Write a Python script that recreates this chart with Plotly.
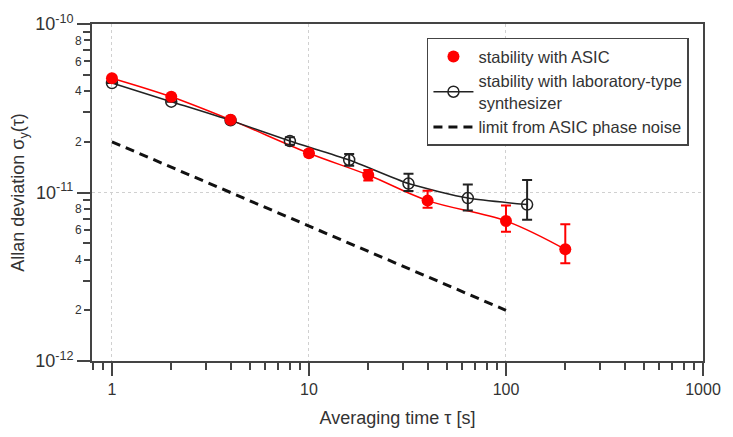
import numpy as np
import plotly.graph_objects as go

# ---- data ----
tau_asic = [1, 2, 4, 10, 20, 40, 100, 200]
adev_asic = [4.77e-11, 3.70e-11, 2.70e-11, 1.71e-11, 1.27e-11, 8.95e-12, 6.78e-12, 4.60e-12]
err_asic_plus = [0, 0, 0, 0.07e-11, 0.09e-11, 1.28e-12, 1.59e-12, 1.89e-12]
err_asic_minus = [0, 0, 0, 0.07e-11, 0.09e-11, 0.84e-12, 0.93e-12, 0.80e-12]

tau_lab = [1, 2, 4, 8, 16, 32, 64, 128]
adev_lab = [4.46e-11, 3.46e-11, 2.68e-11, 2.02e-11, 1.56e-11, 1.13e-11, 9.27e-12, 8.48e-12]
err_lab_plus = [0, 0, 0, 0.11e-11, 0.13e-11, 1.6e-12, 1.9e-12, 3.4e-12]
err_lab_minus = [0, 0, 0, 0.10e-11, 0.12e-11, 1.1e-12, 1.44e-12, 1.6e-12]

tau_limit = [1, 100]
adev_limit = [2e-11, 2e-12]

x_major = [1, 10, 100, 1000]
x_major_text = ["1", "10", "100", "1000"]
x_minor = [0.8, 0.9] + [m * d for d in (1, 10, 100) for m in range(2, 10)]
y_major = [1e-12, 1e-11, 1e-10]
y_major_text = ["10<sup>-12</sup>", "10<sup>-11</sup>", "10<sup>-10</sup>"]
y_minor = [3e-12, 5e-12, 7e-12, 9e-12, 3e-11, 5e-11, 7e-11, 9e-11]
y_minor_labeled = [2e-12, 4e-12, 6e-12, 8e-12, 2e-11, 4e-11, 6e-11, 8e-11]
y_minor_text = ["2", "4", "6", "8", "2", "4", "6", "8"]

RED = "#ff0000"
BLK = "#222222"
TXT = "#333333"
AX = "#444444"
FONT = "Liberation Sans, Arial, sans-serif"

fig = go.Figure()

fig.add_trace(go.Scatter(
    x=tau_asic, y=adev_asic, mode="lines",
    line=dict(color=RED, width=1.5, shape="spline", smoothing=1),
    showlegend=False, hoverinfo="skip"))

fig.add_trace(go.Scatter(
    x=tau_lab, y=adev_lab, mode="lines+markers",
    name="stability with laboratory-type<br>synthesizer", legendrank=2,
    line=dict(color=BLK, width=1.5, shape="spline", smoothing=0.6),
    marker=dict(symbol="circle-open", size=11, color=BLK, line=dict(width=1.5, color=BLK)),
    error_y=dict(type="data", symmetric=False, array=err_lab_plus, arrayminus=err_lab_minus,
                 color=BLK, thickness=2, width=5)))

fig.add_trace(go.Scatter(
    x=tau_asic, y=adev_asic, mode="markers",
    name="stability with ASIC", legendrank=1,
    marker=dict(symbol="circle", size=12, color=RED),
    error_y=dict(type="data", symmetric=False, array=err_asic_plus, arrayminus=err_asic_minus,
                 color=RED, thickness=2, width=5)))

fig.add_trace(go.Scatter(
    x=tau_limit, y=adev_limit, mode="lines",
    name="limit from ASIC phase noise", legendrank=3,
    line=dict(color="#111111", width=3, dash="9px,6px")))

# invisible trace that carries the overlay axis with the labelled minor ticks
fig.add_trace(go.Scatter(
    x=[tau_limit[0]], y=[adev_limit[0]], yaxis="y2", mode="markers",
    marker=dict(opacity=0), showlegend=False, hoverinfo="skip"))

axis_common = dict(
    type="log", showline=True, linecolor=AX, linewidth=2, mirror=True,
    ticks="outside", ticklen=13, tickwidth=1.5, tickcolor=AX,
    showgrid=True, gridcolor="#d0d0d0", griddash="dot", gridwidth=1,
    zeroline=False,
)

fig.update_layout(
    width=733, height=437,
    margin=dict(l=92, r=21, t=19, b=74),
    paper_bgcolor="white", plot_bgcolor="white",
    font=dict(family=FONT, color=TXT),
    xaxis=dict(**axis_common, range=[np.log10(0.792), 3.0],
               tickmode="array", tickvals=x_major, ticktext=x_major_text,
               tickfont=dict(family=FONT, size=16, color=TXT),
               minor=dict(tickmode="array", tickvals=x_minor, ticks="outside",
                          ticklen=7, tickwidth=1.5, tickcolor=AX, showgrid=False),
               title=dict(text="Averaging time τ [s]", standoff=14,
                          font=dict(family=FONT, size=18, color=TXT))),
    yaxis=dict(**axis_common, range=[-12, -10],
               tickmode="array", tickvals=y_major, ticktext=y_major_text,
               tickfont=dict(family=FONT, size=18, color=TXT),
               minor=dict(tickmode="array", tickvals=y_minor, ticks="outside",
                          ticklen=7, tickwidth=1.5, tickcolor=AX, showgrid=False),
               title=dict(text="Allan deviation σ<sub>y</sub>(τ)", standoff=6,
                          font=dict(family=FONT, size=18, color=TXT))),
    yaxis2=dict(type="log", range=[-12, -10], overlaying="y", side="left",
                showline=False, showgrid=False, zeroline=False,
                tickmode="array", tickvals=y_minor_labeled, ticktext=y_minor_text,
                ticks="outside", ticklen=7, tickwidth=1.5, tickcolor=AX,
                tickfont=dict(family=FONT, size=12, color=TXT)),
    legend=dict(x=0.977, xanchor="right", y=0.959, yanchor="top",
                bgcolor="white", bordercolor=AX, borderwidth=1.5,
                font=dict(family=FONT, size=16.5, color=TXT),
                tracegroupgap=0, itemwidth=40),
    showlegend=True,
)

fig.write_html("out.html")
